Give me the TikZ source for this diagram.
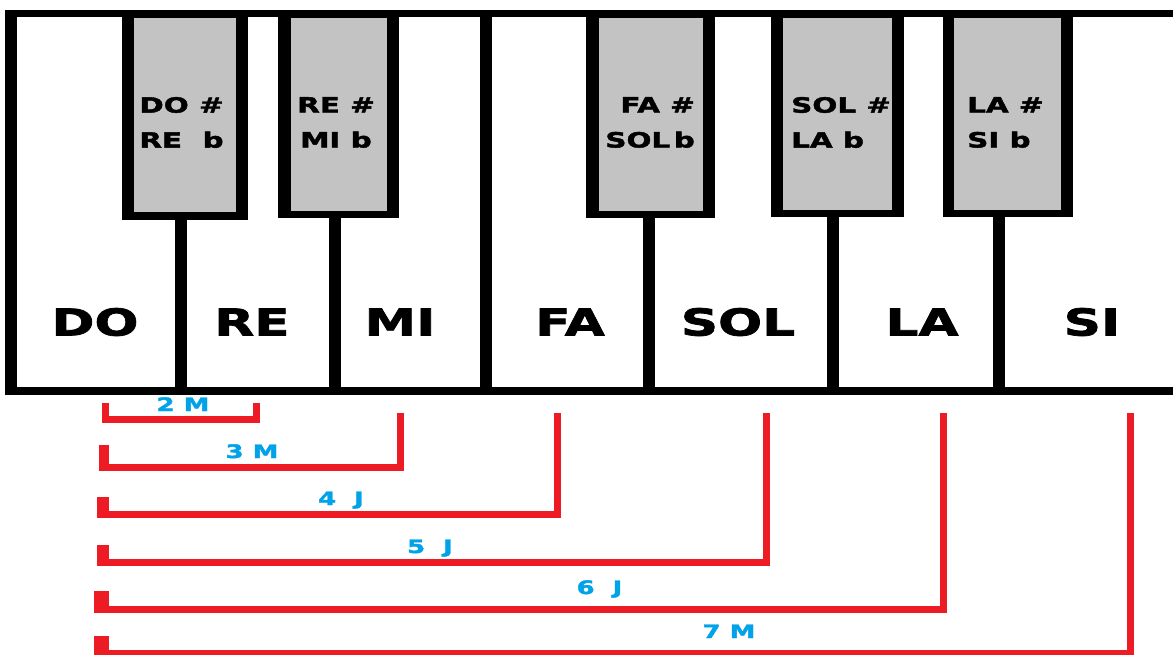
\documentclass[tikz,border=0pt]{standalone}
\usepackage{fontspec}
\usepackage{xcolor}
\usepackage{tikz}
\newfontfamily\keyfont{DejaVu Sans Bold}[FakeStretch=1.4,FakeBold=2]
\definecolor{redx}{HTML}{ED1C24}
\definecolor{bluex}{HTML}{00A2E8}
\definecolor{grayx}{HTML}{C3C3C3}
\tikzset{
  wk/.style={font=\keyfont\fontsize{37}{40}\selectfont,inner sep=0pt,anchor=base},
  bk/.style={font=\keyfont\fontsize{21}{35}\selectfont,inner sep=0pt},
  iv/.style={font=\keyfont\fontsize{18.5}{20}\selectfont,text=bluex,inner sep=0pt,anchor=base},
  br/.style={draw=redx,line width=7pt,line join=miter}
}

\begin{document}
\begin{tikzpicture}[x=1pt,y=-1pt]
\useasboundingbox (0,0) rectangle (1173,654);
\fill[white] (0,0) rectangle (1173,654);
% frame of the keyboard
\fill[black] (5,10) rectangle (1173,395);
\fill[white] (17,17) rectangle (1173,387);
\foreach \xx in {181,335,486,648.5,833,999}{\fill[black] (\xx-6,17) rectangle (\xx+6,387);}
% black keys
\foreach \a/\b/\c/\d/\e/\f in {122/248/220/134/236/212,278/399/218/291/387/211,586/715/218/599/703/211,771/904/217/783/892/210,943/1073/217/954/1061/210}{
  \fill[black] (\a,10) rectangle (\b,\c);
  \fill[grayx] (\d,18) rectangle (\e,\f);
}
% white key names
\node[wk] (do) at (95,335.5) {DO};
\node[wk] (re) at (252,335.5) {RE};
\node[wk] (mi) at (400,335.5) {MI};
\node[wk] (fa) at (570,335.5) {FA};
\node[wk] (sol) at (738,335.5) {SOL};
\node[wk] (la) at (922,335.5) {LA};
\node[wk] (si) at (1092,335.5) {SI};
% black key names
\node[bk,align=center] (dos) at (181.5,122.5) {DO \#\\RE\ \ b};
\node[bk,align=center] (res) at (336,122.5) {RE \#\\MI b};
\node[bk,align=right,anchor=east] (fas) at (695,122.5) {FA \#\\SOL\,b};
\node[bk,align=left,anchor=west] (sols) at (791,122.5) {SOL \#\\LA b};
\node[bk,align=left,anchor=west] (las) at (967,122.5) {LA \#\\SI b};
% intervals from DO
\foreach \n/\ll/\ly/\by/\rx/\ry/\t/\tx/\ty in {
  2/102/403/419/256/403/{2 M}/183/411,
  3/99/445/467.5/400/413/{3 M}/252/458,
  4/97/497/514.5/557/413/{4\ \ J}/341/505,
  5/97/545/562.5/766.5/413/{5\ \ J}/430/553,
  6/94/591/609.5/943/413/{6\ \ J}/599.5/594,
  7/94/636/653/1130.5/413/{7 M}/729/638}{
  \coordinate (l\n) at (105.5,\ly);
  \coordinate (r\n) at (\rx,\ry);
  \draw[br] (l\n) -- ++(0,\by-\ly) -| (r\n);
  \fill[redx] (\ll,\ly) rectangle (106,\by+3.5);
  \node[iv] (iv\n) at (\tx,\ty) {\t};
}
\end{tikzpicture}
\end{document}
